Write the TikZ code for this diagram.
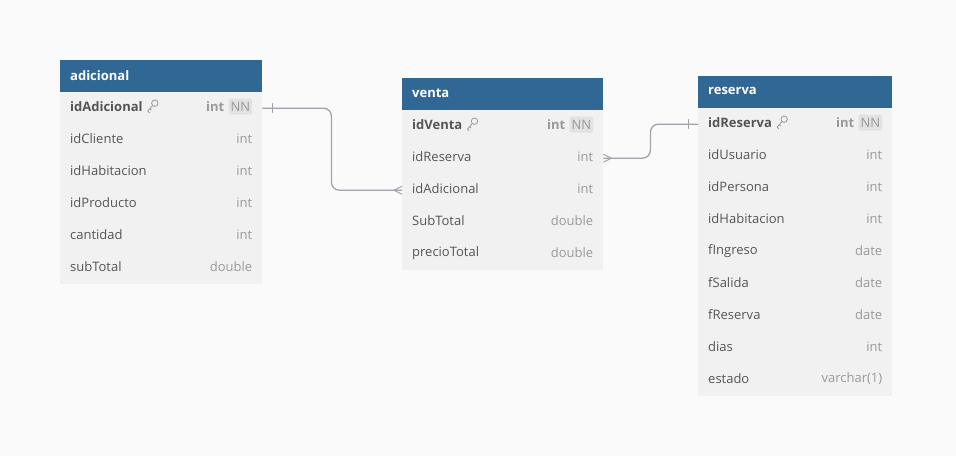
\documentclass[tikz,border=0pt]{standalone}
\usepackage{fontspec}
\setmainfont{Open Sans}
\definecolor{bg}{HTML}{FAFAFA}
\definecolor{hdrblue}{HTML}{316795}
\definecolor{rowgray}{HTML}{F1F1F1}
\definecolor{nametxt}{HTML}{555555}
\definecolor{typetxt}{HTML}{999999}
\definecolor{badge}{HTML}{E2E2E2}
\definecolor{conncol}{HTML}{A3A3AB}
\tikzset{
  hdrbox/.style={fill=hdrblue, draw=none, inner sep=0pt, minimum height=32pt, anchor=north west},
  rowbox/.style={fill=rowgray, draw=none, inner sep=0pt, minimum height=32pt, anchor=north west},
  hdrtxt/.style={text=white, font=\fontsize{13}{15}\selectfont\bfseries, inner sep=0pt, anchor=west},
  fname/.style={text=nametxt, font=\fontsize{13}{15}\selectfont, inner sep=0pt, anchor=west},
  fkey/.style={text=nametxt, font=\fontsize{13}{15}\selectfont\bfseries, inner sep=0pt, anchor=west},
  ftype/.style={text=typetxt, font=\fontsize{13}{15}\selectfont, inner sep=0pt, anchor=east},
  fktype/.style={text=typetxt, font=\fontsize{13}{15}\selectfont\bfseries, inner sep=0pt, anchor=east},
  nnbadge/.style={fill=badge, text=typetxt, font=\fontsize{13}{15}\selectfont, rounded corners=2pt, inner xsep=2pt, minimum height=16pt, anchor=east},
  conn/.style={draw=conncol, line width=1.3pt, rounded corners=8pt},
  connmark/.style={draw=conncol, line width=1pt},
  keyicon/.style={draw=typetxt, line width=0.8pt}
}
\newcommand\tblhdr[5]{% name, x, y, width, title
  \node[hdrbox, minimum width=#4pt] (#1) at (#2,#3) {};
  \node[hdrtxt] at ([xshift=10pt,yshift=1pt]#1.west) {#5};}
\newcommand\tblrow[6]{% name, x, y, width, field, type
  \node[rowbox, minimum width=#4pt] (#1) at (#2,#3) {};
  \node[fname] at ([xshift=10pt,yshift=1.5pt]#1.west) {#5};
  \node[ftype] at ([xshift=-10pt,yshift=1.5pt]#1.east) {#6};}
\newcommand\tblkey[5]{% name, x, y, width, field
  \node[rowbox, minimum width=#4pt] (#1) at (#2,#3) {};
  \node[fkey] (#1-n) at ([xshift=10pt,yshift=1.5pt]#1.west) {#5};
  \node[nnbadge] (#1-b) at ([xshift=-10pt,yshift=1.5pt]#1.east) {NN};
  \node[fktype] at ([xshift=-4pt]#1-b.west) {int};
  \begin{scope}[shift={([xshift=4pt]#1-n.east)}]
    \draw[keyicon] (8,-3.5) circle (3.2pt);
    \draw[keyicon] (5.8,-1.2) -- (1,4.5) -- (2.8,6.2);
    \draw[keyicon] (3,1.9) -- (4.6,3.4);
  \end{scope}}
\begin{document}
\begin{tikzpicture}[x=1pt,y=-1pt]
\useasboundingbox[fill=bg] (0,0) rectangle (956,456);
% adicional
\tblhdr{a}{60}{60}{202}{adicional}
\tblkey{a-idAdicional}{60}{92}{202}{idAdicional}
\tblrow{a-idCliente}{60}{124}{202}{idCliente}{int}
\tblrow{a-idHabitacion}{60}{156}{202}{idHabitacion}{int}
\tblrow{a-idProducto}{60}{188}{202}{idProducto}{int}
\tblrow{a-cantidad}{60}{220}{202}{cantidad}{int}
\tblrow{a-subTotal}{60}{252}{202}{subTotal}{double}
% venta
\tblhdr{v}{402}{78}{201}{venta}
\tblkey{v-idVenta}{402}{110}{201}{idVenta}
\tblrow{v-idReserva}{402}{142}{201}{idReserva}{int}
\tblrow{v-idAdicional}{402}{174}{201}{idAdicional}{int}
\tblrow{v-SubTotal}{402}{206}{201}{SubTotal}{double}
\tblrow{v-precioTotal}{402}{238}{201}{precioTotal}{double}
% reserva
\tblhdr{r}{698}{76}{194}{reserva}
\tblkey{r-idReserva}{698}{108}{194}{idReserva}
\tblrow{r-idUsuario}{698}{140}{194}{idUsuario}{int}
\tblrow{r-idPersona}{698}{172}{194}{idPersona}{int}
\tblrow{r-idHabitacion}{698}{204}{194}{idHabitacion}{int}
\tblrow{r-fIngreso}{698}{236}{194}{fIngreso}{date}
\tblrow{r-fSalida}{698}{268}{194}{fSalida}{date}
\tblrow{r-fReserva}{698}{300}{194}{fReserva}{date}
\tblrow{r-dias}{698}{332}{194}{dias}{int}
\tblrow{r-estado}{698}{364}{194}{estado}{varchar(1)}
% connectors
\draw[conn] (a-idAdicional.east) -- ++(69,0) |- (v-idAdicional.west);
\draw[connmark] ([xshift=10pt]a-idAdicional.east) +(0,-5) -- +(0,5);
\draw[connmark] ([xshift=-8pt]v-idAdicional.west) -- ([yshift=-4pt]v-idAdicional.west);
\draw[connmark] ([xshift=-8pt]v-idAdicional.west) -- ([yshift=4pt]v-idAdicional.west);
\draw[conn] (v-idReserva.east) -- ++(47,0) |- (r-idReserva.west);
\draw[connmark] ([xshift=8pt]v-idReserva.east) -- ([yshift=-4pt]v-idReserva.east);
\draw[connmark] ([xshift=8pt]v-idReserva.east) -- ([yshift=4pt]v-idReserva.east);
\draw[connmark] ([xshift=-10pt]r-idReserva.west) +(0,-5) -- +(0,5);
\end{tikzpicture}
\end{document}
